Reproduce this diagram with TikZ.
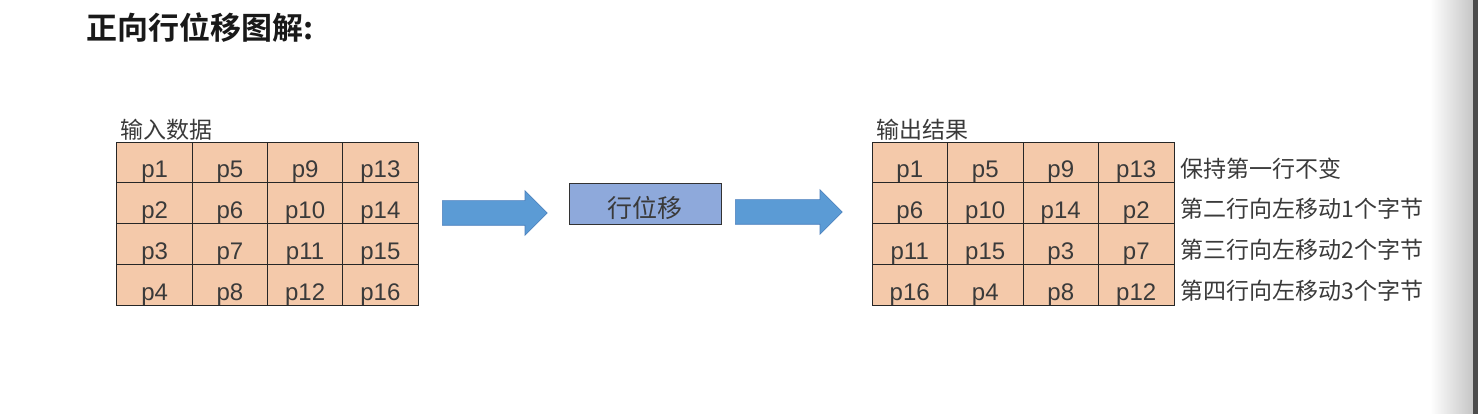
\documentclass[tikz,border=0pt]{standalone}
\usepackage{fontspec}
\setmainfont{Liberation Sans}
\newfontfamily\cjk{Noto Sans CJK SC}
\newfontfamily\cjkbold{Noto Sans CJK SC Bold}
\usetikzlibrary{shapes.arrows,positioning}
\definecolor{peach}{HTML}{F4C9AA}
\definecolor{lavblue}{HTML}{8EA9DB}
\definecolor{arrowblue}{HTML}{5B9BD5}
\definecolor{arrowedge}{HTML}{4A7EBB}
\definecolor{txtgray}{HTML}{3A3A3A}
\tikzset{
cell/.style={draw=black!85, fill=peach, line width=0.9pt, minimum width=75.4pt, minimum height=40.75pt, inner sep=0pt, text height=35.75pt, text depth=5pt, font=\fontsize{24}{24}\selectfont, text=txtgray},
cn/.style={font=\cjk\fontsize{23}{23}\selectfont, text=txtgray, inner sep=0pt},
blockarrow/.style={single arrow, fill=arrowblue, draw=arrowedge, line width=0.6pt, inner xsep=0pt, inner ysep=12pt, single arrow head extend=10pt, minimum width=44pt}
}
\begin{document}
\begin{tikzpicture}[x=1pt,y=-1pt]
\useasboundingbox (0,0) rectangle (1478,414);
%bord droit
\shade[left color=white, right color=gray!45] (1430,0) rectangle (1473,414);
\fill[black!70] (1473,0) rectangle (1478,414);
%fin

%titre
\node[anchor=west, inner sep=0pt, text=black!90, font=\cjkbold\fontsize{31}{31}\selectfont] (title) at (86,28) {正向行位移图解:};

%tableau entree
\foreach \row [count=\i] in {{p1,p5,p9,p13},{p2,p6,p10,p14},{p3,p7,p11,p15},{p4,p8,p12,p16}}
\foreach \txt [count=\j] in \row
\node[cell] (in-\i-\j) at ({117+75.25*(\j-0.5)},{142+40.75*(\i-0.5)}) {\txt};
\node[cn, above right=1pt and 4pt of in-1-1.north west] (inlabel) {输入数据};
%fin

%tableau sortie
\foreach \row [count=\i] in {{p1,p5,p9,p13},{p6,p10,p14,p2},{p11,p15,p3,p7},{p16,p4,p8,p12}}
\foreach \txt [count=\j] in \row
\node[cell] (out-\i-\j) at ({872+75.5*(\j-0.5)},{142+40.75*(\i-0.5)}) {\txt};
\node[cn, above right=1pt and 5pt of out-1-1.north west] (outlabel) {输出结果};
%fin

%remarques
\foreach \txt [count=\i] in {保持第一行不变,第二行向左移动1个字节,第三行向左移动2个字节,第四行向左移动3个字节}
\node[cn, anchor=west, yshift=-6pt] (note-\i) at ([xshift=6pt]out-\i-4.east) {\txt};
%fin

%fleches
\node[blockarrow, minimum height=105pt, anchor=tail] (arrowin) at (442,213) {};
\node[draw=black!80, fill=lavblue, line width=0.9pt, minimum width=152pt, minimum height=41pt, inner sep=0pt, text height=35pt, text depth=6pt, text=txtgray, font=\cjk\fontsize{25}{25}\selectfont] (shift) at (645,203.5) {行位移};
\node[blockarrow, minimum height=107pt, anchor=tail] (arrowout) at (735,212) {};
\end{tikzpicture}
\end{document}
